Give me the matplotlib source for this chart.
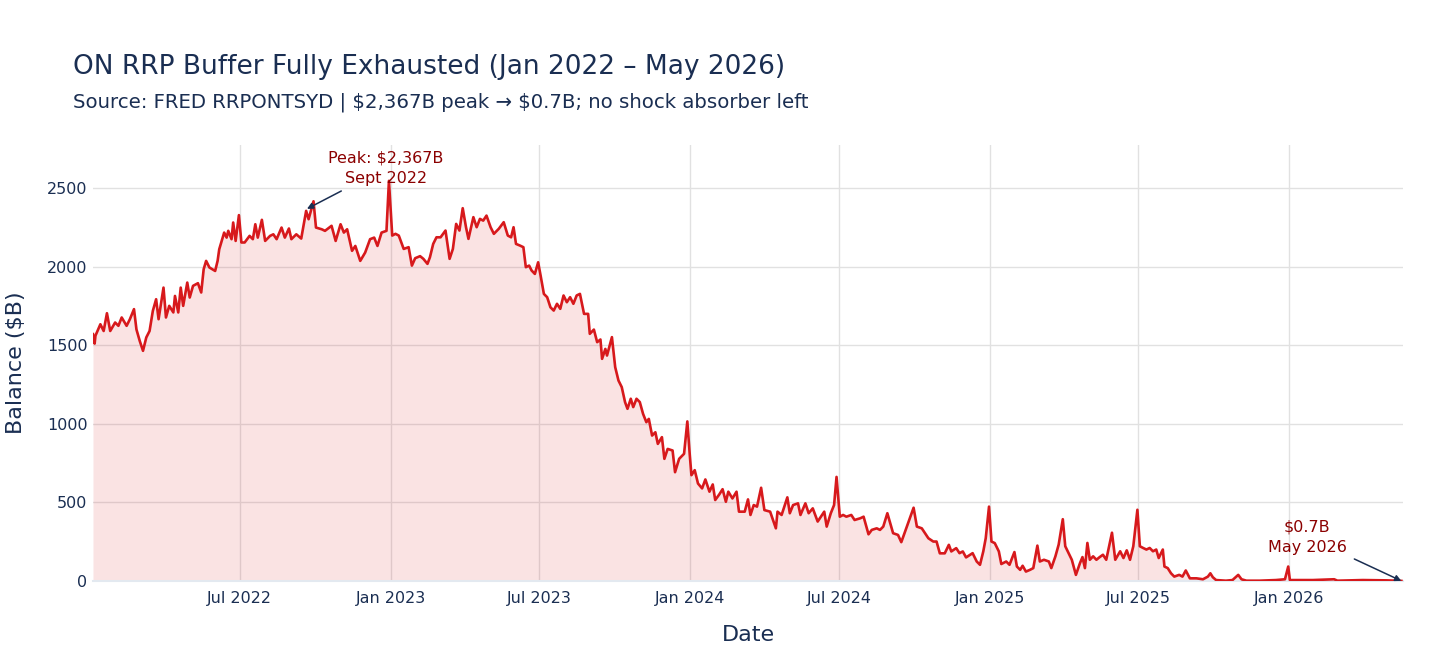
import matplotlib
matplotlib.use("Agg")
import matplotlib.pyplot as plt
import pandas as pd

# ---- data ($B) ----
obs = [
    ("2022-01-03", 1570), ("2022-01-05", 1510), ("2022-01-06", 1560), ("2022-01-12", 1633),
    ("2022-01-16", 1590), ("2022-01-20", 1703), ("2022-01-24", 1590), ("2022-01-30", 1644),
    ("2022-02-03", 1623), ("2022-02-07", 1676), ("2022-02-13", 1623), ("2022-02-17", 1665),
    ("2022-02-22", 1729), ("2022-02-25", 1600), ("2022-03-01", 1527), ("2022-03-05", 1464),
    ("2022-03-09", 1549), ("2022-03-13", 1590), ("2022-03-17", 1718), ("2022-03-21", 1792),
    ("2022-03-24", 1665), ("2022-03-30", 1866), ("2022-04-02", 1676), ("2022-04-06", 1750),
    ("2022-04-11", 1708), ("2022-04-13", 1813), ("2022-04-17", 1708), ("2022-04-20", 1866),
    ("2022-04-23", 1750), ("2022-04-28", 1898), ("2022-05-01", 1803), ("2022-05-05", 1877),
    ("2022-05-11", 1894), ("2022-05-15", 1835), ("2022-05-18", 1983), ("2022-05-21", 2036),
    ("2022-05-25", 1994), ("2022-06-01", 1972), ("2022-06-04", 2036), ("2022-06-06", 2110),
    ("2022-06-12", 2216), ("2022-06-15", 2184), ("2022-06-17", 2227), ("2022-06-21", 2174),
    ("2022-06-23", 2280), ("2022-06-26", 2163), ("2022-06-30", 2327), ("2022-07-03", 2153),
    ("2022-07-07", 2153), ("2022-07-13", 2195), ("2022-07-17", 2174), ("2022-07-20", 2269),
    ("2022-07-23", 2184), ("2022-07-28", 2297), ("2022-08-01", 2163), ("2022-08-07", 2195),
    ("2022-08-11", 2205), ("2022-08-15", 2174), ("2022-08-21", 2248), ("2022-08-25", 2184),
    ("2022-08-30", 2242), ("2022-09-02", 2174), ("2022-09-08", 2205), ("2022-09-14", 2178),
    ("2022-09-20", 2354), ("2022-09-23", 2301), ("2022-09-29", 2415), ("2022-10-02", 2248),
    ("2022-10-09", 2237), ("2022-10-13", 2227), ("2022-10-21", 2259), ("2022-10-26", 2163),
    ("2022-11-01", 2269), ("2022-11-05", 2216), ("2022-11-09", 2237), ("2022-11-15", 2100),
    ("2022-11-19", 2131), ("2022-11-25", 2036), ("2022-12-01", 2089), ("2022-12-07", 2174),
    ("2022-12-12", 2184), ("2022-12-16", 2131), ("2022-12-21", 2216), ("2022-12-27", 2227),
    ("2022-12-30", 2545),
    ("2023-01-03", 2197), ("2023-01-07", 2208), ("2023-01-11", 2197), ("2023-01-17", 2112),
    ("2023-01-23", 2123), ("2023-01-27", 2006), ("2023-01-31", 2053), ("2023-02-06", 2066),
    ("2023-02-10", 2049), ("2023-02-15", 2017), ("2023-02-18", 2059), ("2023-02-22", 2144),
    ("2023-02-26", 2186), ("2023-03-03", 2186), ("2023-03-09", 2229), ("2023-03-14", 2049),
    ("2023-03-18", 2112), ("2023-03-22", 2271), ("2023-03-26", 2229), ("2023-03-30", 2371),
    ("2023-04-03", 2250), ("2023-04-06", 2176), ("2023-04-12", 2314), ("2023-04-16", 2250),
    ("2023-04-20", 2303), ("2023-04-24", 2292), ("2023-04-28", 2324), ("2023-05-03", 2250),
    ("2023-05-07", 2208), ("2023-05-13", 2240), ("2023-05-19", 2282), ("2023-05-24", 2197),
    ("2023-05-28", 2186), ("2023-05-31", 2250), ("2023-06-03", 2144), ("2023-06-08", 2133),
    ("2023-06-12", 2123), ("2023-06-15", 1996), ("2023-06-19", 2006), ("2023-06-22", 1975),
    ("2023-06-26", 1953), ("2023-06-30", 2027), ("2023-07-03", 1943), ("2023-07-07", 1826),
    ("2023-07-11", 1805), ("2023-07-15", 1741), ("2023-07-19", 1720), ("2023-07-23", 1763),
    ("2023-07-27", 1731), ("2023-07-31", 1816), ("2023-08-04", 1773), ("2023-08-08", 1805),
    ("2023-08-12", 1763), ("2023-08-16", 1816), ("2023-08-20", 1826), ("2023-08-25", 1699),
    ("2023-08-30", 1699), ("2023-09-01", 1572), ("2023-09-06", 1599), ("2023-09-10", 1519),
    ("2023-09-14", 1536), ("2023-09-16", 1413), ("2023-09-20", 1476), ("2023-09-22", 1434),
    ("2023-09-28", 1551), ("2023-10-02", 1360), ("2023-10-06", 1275), ("2023-10-10", 1233),
    ("2023-10-14", 1138), ("2023-10-17", 1095), ("2023-10-21", 1159), ("2023-10-24", 1106),
    ("2023-10-28", 1159), ("2023-11-01", 1138), ("2023-11-05", 1063), ("2023-11-09", 1010),
    ("2023-11-12", 1031), ("2023-11-16", 925), ("2023-11-20", 946), ("2023-11-23", 872),
    ("2023-11-28", 915), ("2023-12-01", 777), ("2023-12-05", 840), ("2023-12-11", 830),
    ("2023-12-14", 692), ("2023-12-19", 777), ("2023-12-25", 809), ("2023-12-29", 1015),
    ("2024-01-01", 800), ("2024-01-03", 673), ("2024-01-07", 705), ("2024-01-11", 620),
    ("2024-01-16", 589), ("2024-01-20", 646), ("2024-01-25", 568), ("2024-01-29", 614),
    ("2024-02-01", 515), ("2024-02-06", 551), ("2024-02-10", 584), ("2024-02-14", 504),
    ("2024-02-17", 568), ("2024-02-22", 525), ("2024-02-27", 568), ("2024-03-01", 441),
    ("2024-03-08", 441), ("2024-03-12", 519), ("2024-03-15", 420), ("2024-03-19", 483),
    ("2024-03-23", 473), ("2024-03-28", 593), ("2024-04-01", 451), ("2024-04-08", 441),
    ("2024-04-15", 335), ("2024-04-17", 441), ("2024-04-22", 420), ("2024-04-29", 532),
    ("2024-05-02", 431), ("2024-05-06", 483), ("2024-05-12", 494), ("2024-05-15", 420),
    ("2024-05-21", 494), ("2024-05-25", 431), ("2024-05-30", 462), ("2024-06-05", 378),
    ("2024-06-13", 441), ("2024-06-16", 346), ("2024-06-21", 431), ("2024-06-25", 483),
    ("2024-06-28", 662), ("2024-07-02", 409), ("2024-07-06", 420), ("2024-07-10", 409),
    ("2024-07-16", 420), ("2024-07-20", 388), ("2024-07-27", 399), ("2024-07-31", 409),
    ("2024-08-06", 297), ("2024-08-10", 325), ("2024-08-16", 335), ("2024-08-20", 325),
    ("2024-08-24", 346), ("2024-08-29", 431), ("2024-09-05", 304), ("2024-09-11", 293),
    ("2024-09-15", 247), ("2024-09-21", 335), ("2024-09-30", 466), ("2024-10-04", 346),
    ("2024-10-10", 335), ("2024-10-18", 272), ("2024-10-24", 251), ("2024-10-28", 251),
    ("2024-11-01", 176), ("2024-11-07", 176), ("2024-11-12", 230), ("2024-11-15", 188),
    ("2024-11-21", 209), ("2024-11-25", 177), ("2024-11-29", 188), ("2024-12-03", 150),
    ("2024-12-11", 177), ("2024-12-16", 124), ("2024-12-20", 103), ("2024-12-24", 188),
    ("2024-12-27", 272), ("2024-12-31", 473),
    ("2025-01-03", 251), ("2025-01-07", 241), ("2025-01-12", 188), ("2025-01-15", 108),
    ("2025-01-21", 124), ("2025-01-25", 103), ("2025-01-31", 184), ("2025-02-03", 92),
    ("2025-02-07", 71), ("2025-02-10", 97), ("2025-02-14", 60), ("2025-02-19", 71),
    ("2025-02-23", 82), ("2025-02-28", 225), ("2025-03-03", 124), ("2025-03-08", 135),
    ("2025-03-14", 124), ("2025-03-17", 82), ("2025-03-22", 157), ("2025-03-26", 232),
    ("2025-03-31", 393), ("2025-04-03", 221), ("2025-04-07", 178), ("2025-04-11", 135),
    ("2025-04-16", 39), ("2025-04-21", 114), ("2025-04-24", 152), ("2025-04-27", 82),
    ("2025-04-30", 242), ("2025-05-03", 135), ("2025-05-07", 157), ("2025-05-11", 135),
    ("2025-05-15", 152), ("2025-05-19", 167), ("2025-05-23", 135), ("2025-05-30", 307),
    ("2025-06-03", 135), ("2025-06-09", 189), ("2025-06-13", 146), ("2025-06-17", 195),
    ("2025-06-21", 135), ("2025-06-25", 221), ("2025-06-30", 453), ("2025-07-03", 221),
    ("2025-07-07", 210), ("2025-07-11", 200), ("2025-07-15", 210), ("2025-07-19", 189),
    ("2025-07-23", 200), ("2025-07-26", 146), ("2025-07-31", 200), ("2025-08-02", 92),
    ("2025-08-06", 82), ("2025-08-10", 49), ("2025-08-14", 28), ("2025-08-20", 39),
    ("2025-08-24", 28), ("2025-08-28", 67), ("2025-09-02", 17), ("2025-09-10", 17),
    ("2025-09-18", 11), ("2025-09-24", 28), ("2025-09-27", 49), ("2025-09-30", 24),
    ("2025-10-04", 6), ("2025-10-16", 2), ("2025-10-24", 6), ("2025-10-31", 39),
    ("2025-11-04", 11), ("2025-11-10", 2), ("2025-11-26", 2), ("2025-12-16", 6),
    ("2025-12-27", 11), ("2025-12-31", 92),
    ("2026-01-02", 6), ("2026-01-30", 6), ("2026-02-25", 11), ("2026-03-01", 2),
    ("2026-04-01", 6), ("2026-04-30", 4), ("2026-05-18", 0.7),
]
dates = pd.to_datetime([d for d, _ in obs])
balance = [v for _, v in obs]

y_ticks = [0, 500, 1000, 1500, 2000, 2500]
x_tick_labels = ["Jul 2022", "Jan 2023", "Jul 2023", "Jan 2024",
                 "Jul 2024", "Jan 2025", "Jul 2025", "Jan 2026"]
x_tick_dates = pd.to_datetime(["2022-07-01", "2023-01-01", "2023-07-01", "2024-01-01",
                               "2024-07-01", "2025-01-01", "2025-07-01", "2026-01-01"])

peak_point = (pd.Timestamp("2022-09-21"), 2367)
peak_text_pos = (pd.Timestamp("2022-12-26"), 2627)
end_point = (dates[-1], balance[-1])
end_text_pos = (pd.Timestamp("2026-01-23"), 280)

# ---- style ----
NAVY = "#1a2e52"
RED = "#d7191c"
DARKRED = "#8b0000"
GRID = "#e1e1e1"

plt.rcParams["font.family"] = ["DejaVu Sans"]
plt.rcParams["text.parse_math"] = False

fig = plt.figure(figsize=(14.56, 6.62), dpi=100)
ax = fig.add_axes([93 / 1456, 1 - 581 / 662, (1403 - 93) / 1456, (581 - 145) / 662])

ax.fill_between(dates, balance, 0, color=RED, alpha=0.12, linewidth=0, zorder=1)
ax.plot(dates, balance, color=RED, linewidth=1.9, zorder=3)

ax.set_xlim(dates[0], pd.Timestamp("2026-05-20"))
ax.set_ylim(0, 2773)
ax.set_yticks(y_ticks)
ax.set_yticklabels([str(t) for t in y_ticks])
ax.set_xticks(x_tick_dates)
ax.set_xticklabels(x_tick_labels)

ax.set_axisbelow(True)
ax.grid(True, color=GRID, linewidth=1.0)
for s in ["top", "right", "left"]:
    ax.spines[s].set_visible(False)
ax.spines["bottom"].set_color("#e3e9f0")
ax.spines["bottom"].set_linewidth(1.5)
ax.tick_params(axis="both", length=0, labelsize=11.5, labelcolor=NAVY)
ax.tick_params(axis="x", pad=7)
ax.tick_params(axis="y", pad=4)

ax.set_xlabel("Date", fontsize=16, color=NAVY, labelpad=14)
ax.set_ylabel("Balance ($B)", fontsize=16, color=NAVY, labelpad=15)

fig.text(73 / 1456, 1 - 74 / 662, "ON RRP Buffer Fully Exhausted (Jan 2022 – May 2026)",
         fontsize=19.0, color=NAVY, va="baseline", ha="left")
fig.text(73 / 1456, 1 - 108 / 662,
         "Source: FRED RRPONTSYD | $2,367B peak → $0.7B; no shock absorber left",
         fontsize=14.25, color=NAVY, va="baseline", ha="left")

arrow = dict(arrowstyle="-|>", color=NAVY, lw=1.1, mutation_scale=9,
             shrinkA=4, shrinkB=0)
ax.annotate("Peak: $2,367B\nSept 2022", xy=peak_point, xytext=peak_text_pos,
            ha="center", va="center", fontsize=11.5, color=DARKRED,
            arrowprops=arrow, zorder=5, linespacing=1.45)
ax.annotate("$0.7B\nMay 2026", xy=end_point, xytext=end_text_pos,
            ha="center", va="center", fontsize=11.5, color=DARKRED,
            arrowprops=arrow, zorder=5, linespacing=1.45)

fig.savefig("out.png", dpi=100, facecolor="white")
